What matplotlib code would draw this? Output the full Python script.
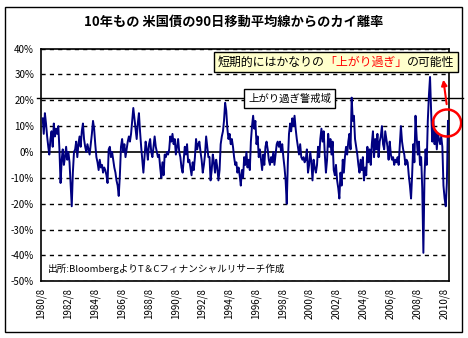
import pandas as pd
import matplotlib
matplotlib.use("Agg")
import matplotlib.pyplot as plt
from matplotlib.patches import Ellipse, Rectangle
from matplotlib.offsetbox import TextArea, HPacker, AnnotationBbox

plt.rcParams['font.family'] = ['Noto Sans CJK JP', 'DejaVu Sans']

# 10年債利回りの90日移動平均線からの乖離率(%)、月次、1980/8〜2010/10
dev_1980s = [
    13, 7, 15, 11, 6,
    2, -1, 5, 8, 2, 11, 6, 9, 7, 10, 1, -12,
    -3, 1, -5, -2, 2, -3, 0, -4, -12, -21, -8, 0,
    1, 4, -2, 3, 6, 2, 8, 11, 5, 2, 0, 3,
    1, -1, 3, 7, 12, 9, 3, -2, -4, -7, -3, -6,
    -5, -8, -6, -7, -9, -12, 1, 2, -2, 0, -3, -6,
    -8, -11, -13, -17, -9, 2, 5, 0, 3, -2, 1, 4,
    6, 4, 7, 12, 17, 13, 9, 5, 11, 15, 8, 2,
    -3, -8, -2, 4, 1, -3, 3, 5, 0, -2, 2, 6,
    2, 0, -2, -1, -6, -10, -4, -9, -1, -2, 0, -1,
]
dev_1990s = [
    1, 6, 4, 7, 3, 5, -1, 2, 5, 0, -2, -6,
    -8, -3, 2, -1, 3, -4, -3, -6, -9, -4, -7, -2,
    5, 1, 3, 4, 0, -3, -8, -5, -1, 6, 2, -2,
    -2, -11, -7, -1, -4, -8, -3, -6, -11, -7, 3, 6,
    8, 12, 19, 16, 9, 5, 7, 3, 5, 2, -2, -5,
    -4, -8, -6, -9, -13, -7, -10, -2, -5, 0, -6, -3,
    -7, 4, 10, 14, 9, 12, 3, 6, -2, 1, -3, -7,
    -1, -5, 2, 4, 1, -3, -5, -2, -4, 0, -5, -1,
    3, 4, 2, 4, 0, 3, -2, -6, -11, -20, -4, 7,
    11, 8, 13, 10, 14, 9, 5, 2, -1, 3, -2, -3,
]
dev_2000s = [
    -2, -4, -3, 1, -8, -5, 0, -4, -11, -3, -6, -8,
    -5, 2, -2, 5, 9, 4, 8, -1, -8, -3, 7, 2,
    5, -1, 4, -7, -9, -5, -11, -14, -18, -8, -13, -3,
    -8, -2, 2, -1, 4, 7, 1, 21, 12, 14, 5, 2,
    -1, -5, -8, -3, -7, -2, -11, -6, -9, 2, -4, 1,
    -5, 3, 8, -2, 5, 1, 7, -2, 4, 6, 10, 3,
    1, 8, 5, 2, -3, 4, -1, -3, -2, -5, -3, -4,
    -2, -5, 3, 10, 4, 1, -1, -5, -3, -4, -9, -13,
    -18, -9, 3, -4, 14, 6, -1, 4, -5, -2, -14, -39,
    -9, 1, -5, 12, 22, 29, 15, 4, 12, 3, 8, 1,
]
dev_2010 = [7, 5, 3, 6, 2, -13, -18, -21, -12, 12]

warning_level = 21
y_ticks = [40, 30, 20, 10, 0, -10, -20, -30, -40, -50]

values = dev_1980s + dev_1990s + dev_2000s + dev_2010
dates = pd.date_range("1980-08-15", periods=len(values), freq="MS") + pd.Timedelta(days=14)
tick_dates = pd.date_range("1980-08-01", "2010-08-01", freq="24MS")

fig = plt.figure(figsize=(4.68, 3.38), dpi=100)
ax = fig.add_axes([0.0876, 0.1678, 0.872, 0.6887])

# 外枠
fig.patches.append(Rectangle((5 / 468, 6 / 338), 457 / 468, 325 / 338,
                             transform=fig.transFigure, fill=False,
                             edgecolor="black", lw=1))

for v in y_ticks:
    if v == 0:
        ax.axhline(0, color="black", lw=1.2, zorder=2)
    else:
        ax.axhline(v, color="black", lw=1, ls=(0, (3, 3)), zorder=1)

ax.plot(dates, values, color="#000080", lw=1.4, zorder=3)

# 警戒ライン
ax.axhline(warning_level, xmin=-0.01, xmax=1.034, color="black", lw=1,
           clip_on=False, zorder=2)

ax.set_ylim(-50, 40)
ax.set_xlim(pd.Timestamp("1980-08-01"), pd.Timestamp("2010-12-15"))
ax.set_yticks(y_ticks)
ax.set_yticklabels([f"{v}%" for v in y_ticks], fontsize=7)
ax.set_xticks(tick_dates)
ax.set_xticklabels([f"{d.year}/{d.month}" for d in tick_dates],
                   rotation=90, fontsize=7)
ax.tick_params(length=0, pad=5)
for s in ax.spines.values():
    s.set_linewidth(1.2)

fig.text(0.5, 1 - 22 / 338, "10年もの 米国債の90日移動平均線からのカイ離率",
         ha="center", va="center", fontsize=9.5, weight="bold")

# 注記ボックス
parts = [("短期的にはかなりの", "black"), ("「上がり過ぎ」", "red"), ("の可能性", "black")]
packed = HPacker(children=[TextArea(t, textprops=dict(color=c, fontsize=8.6))
                           for t, c in parts], pad=0, sep=0)
ab = AnnotationBbox(packed, (0.723, 0.94), xycoords="axes fraction",
                    frameon=True, pad=0.25, annotation_clip=False,
                    bboxprops=dict(facecolor="#FFFFCC", edgecolor="black", lw=1))
ab.set_zorder(6)
ax.add_artist(ab)

ax.text(0.609, 0.785, "上がり過ぎ警戒域", transform=ax.transAxes,
        ha="center", va="center", fontsize=7.5, zorder=6,
        bbox=dict(boxstyle="square,pad=0.4", facecolor="white",
                  edgecolor="black", lw=1))

ax.add_patch(Ellipse((0.995, 0.68), 0.069, 0.116, transform=ax.transAxes,
                     fill=False, edgecolor="red", lw=1.8, clip_on=False, zorder=5))
ax.annotate("", xy=(0.985, 0.878), xytext=(0.995, 0.749),
            xycoords="axes fraction", annotation_clip=False,
            arrowprops=dict(arrowstyle="-|>", color="red", lw=1.5,
                            mutation_scale=8))

ax.text(0.017, 0.053, "出所:BloombergよりT＆Cフィナンシャルリサーチ作成",
        transform=ax.transAxes, ha="left", va="center", fontsize=6.9)

fig.savefig("out.png", dpi=100)
